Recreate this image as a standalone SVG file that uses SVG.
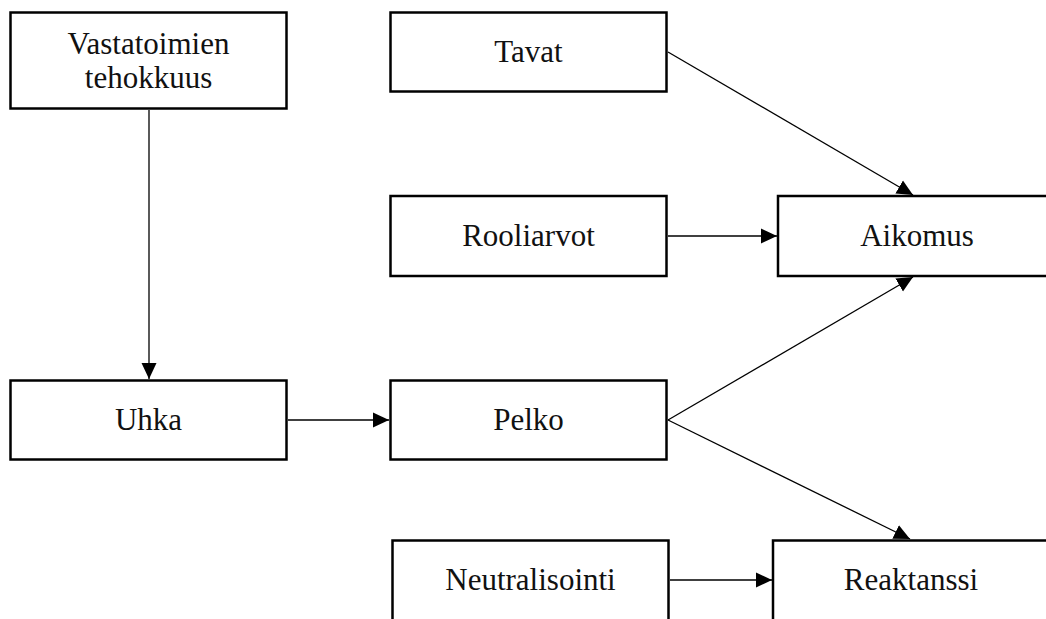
<svg xmlns="http://www.w3.org/2000/svg" width="1046" height="619" viewBox="0 0 1046 619">
<style>
.box{fill:#fff;stroke:#000;stroke-width:2.5}
.lbl{font-family:"Liberation Serif","Times New Roman",serif;font-size:31px;fill:#111;text-anchor:middle}
.edge{stroke:#000;stroke-width:1.3;fill:none;marker-end:url(#ah)}
</style>
<defs>
<marker id="ah" viewBox="0 0 16 16" refX="16" refY="8" markerWidth="16" markerHeight="16" markerUnits="userSpaceOnUse" orient="auto">
<path d="M0,0.5 L16,8 L0,15.5 Z" fill="#000"/>
</marker>
</defs>
<rect width="1046" height="619" fill="#fff"/>
<g id="nodes">
<g id="vastatoimien"><rect class="box" x="10.5" y="12.5" width="276" height="96"/><text class="lbl" x="148.5" y="54">Vastatoimien</text><text class="lbl" x="148.5" y="88">tehokkuus</text></g>
<g id="tavat"><rect class="box" x="390.5" y="12.5" width="276" height="79"/><text class="lbl" x="528.5" y="62">Tavat</text></g>
<g id="rooliarvot"><rect class="box" x="390.5" y="196" width="276" height="80"/><text class="lbl" x="528.5" y="246">Rooliarvot</text></g>
<g id="aikomus"><rect class="box" x="778" y="196" width="278" height="80"/><text class="lbl" x="917" y="246">Aikomus</text></g>
<g id="uhka"><rect class="box" x="10.5" y="380.5" width="276" height="79"/><text class="lbl" x="148.5" y="430">Uhka</text></g>
<g id="pelko"><rect class="box" x="390.5" y="380.5" width="276" height="79"/><text class="lbl" x="528.5" y="430">Pelko</text></g>
<g id="neutralisointi"><rect class="box" x="392.5" y="540.5" width="276" height="90"/><text class="lbl" x="530.5" y="590">Neutralisointi</text></g>
<g id="reaktanssi"><rect class="box" x="773" y="540.5" width="278" height="90"/><text class="lbl" x="911" y="590">Reaktanssi</text></g>
</g>
<g id="connectors">
<line class="edge" x1="149" y1="110" x2="149" y2="379"/>
<line class="edge" x1="288" y1="420" x2="389" y2="420"/>
<line class="edge" x1="668" y1="236" x2="777" y2="236"/>
<line class="edge" x1="668" y1="52" x2="913" y2="195"/>
<line class="edge" x1="668" y1="420" x2="913" y2="277"/>
<line class="edge" x1="668" y1="420" x2="910" y2="539"/>
<line class="edge" x1="670" y1="580" x2="772" y2="580"/>
</g>
</svg>
